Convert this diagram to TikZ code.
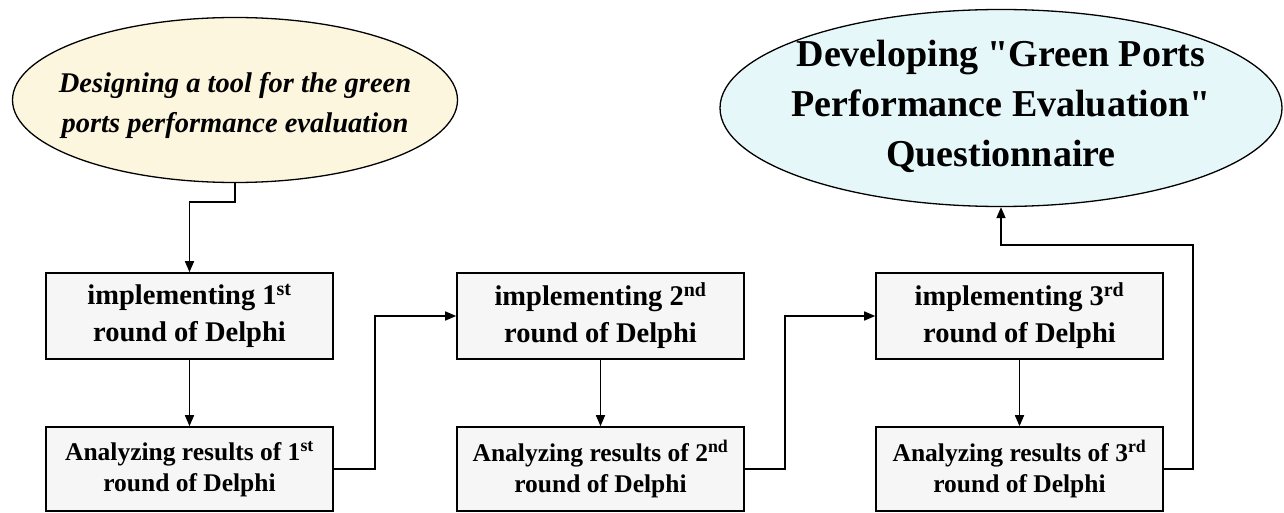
\documentclass[tikz,border=0pt]{standalone}
\usepackage{fontspec}
\setmainfont{Liberation Serif}[Ligatures=TeXOff]
\usetikzlibrary{shapes.geometric,arrows.meta}
\definecolor{yelfill}{HTML}{FCF6DF}
\definecolor{bluefill}{HTML}{E6F7FA}
\definecolor{boxfill}{HTML}{F6F6F6}
\begin{document}
\begin{tikzpicture}[x=1pt,y=-1pt,
  stepbox/.style={draw=black,line width=1.6pt,fill=boxfill,minimum width=287pt,inner sep=0pt,align=center},
  topbox/.style={stepbox,minimum height=86pt,font=\fontsize{28.5}{37}\selectfont\bfseries},
  anbox/.style={stepbox,minimum height=84pt,font=\fontsize{25.5}{31}\selectfont\bfseries},
  oval/.style={ellipse,draw=black,line width=1.3pt,inner sep=0pt},
  ovaltext/.style={inner sep=0pt,align=center},
  arr/.style={draw=black,line width=1.6pt,-{Triangle[length=11pt,width=9pt]}}
]
\useasboundingbox (0,0) rectangle (1284,513);
\node[oval,fill=yelfill,minimum width=445pt,minimum height=165pt] (yel) at (235,100) {};
\node[ovaltext,font=\fontsize{28.5}{40}\selectfont\bfseries\itshape] (yeltext) at (235,106)
  {Designing a tool for the green\\ports performance evaluation};
\node[oval,fill=bluefill,minimum width=562pt,minimum height=197pt] (blue) at (1001,108) {};
\node[ovaltext,font=\fontsize{38}{50}\selectfont\bfseries] (bluetext) at (1001,106)
  {Developing "Green Ports\\Performance Evaluation"\\Questionnaire};
\node[topbox] (b1) at (189.5,316) {implementing 1\textsuperscript{st}\\round of Delphi};
\node[topbox] (b2) at (600.5,316) {implementing 2\textsuperscript{nd}\\round of Delphi};
\node[topbox] (b3) at (1019.5,316) {implementing 3\textsuperscript{rd}\\round of Delphi};
\node[anbox] (a1) at (189.5,469) {Analyzing results of 1\textsuperscript{st}\\round of Delphi};
\node[anbox] (a2) at (600.5,469) {Analyzing results of 2\textsuperscript{nd}\\round of Delphi};
\node[anbox] (a3) at (1019.5,469) {Analyzing results of 3\textsuperscript{rd}\\round of Delphi};
\coordinate (k1) at (235,202);
\coordinate (k2) at (375,469);
\coordinate (k3) at (785,469);
\coordinate (k4) at (1193,245);
\draw[arr] (yel.south) -- (k1) -| (b1.north);
\draw[arr] (b1.south) -- (a1.north);
\draw[arr] (a1.east) -- (k2) |- (b2.west);
\draw[arr] (b2.south) -- (a2.north);
\draw[arr] (a2.east) -- (k3) |- (b3.west);
\draw[arr] (b3.south) -- (a3.north);
\draw[arr] (a3.east) -| (k4) -| (blue.south);
\end{tikzpicture}
\end{document}
